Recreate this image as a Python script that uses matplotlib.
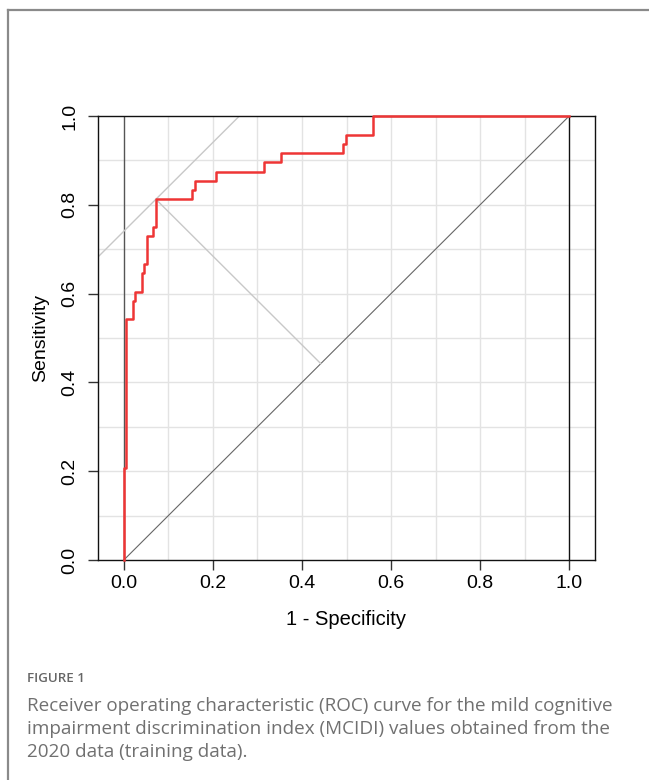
import matplotlib
matplotlib.use("Agg")
import matplotlib.pyplot as plt
from matplotlib.lines import Line2D

# ROC staircase vertices (1 - specificity, sensitivity)
fpr = [0.0, 0.0045, 0.021, 0.026, 0.041, 0.046, 0.052, 0.066, 0.072,
       0.152, 0.160, 0.208, 0.315, 0.352, 0.493, 0.499, 0.560, 1.0]
tpr = [0.0, 0.208, 0.542, 0.583, 0.604, 0.646, 0.667, 0.729, 0.750,
       0.8125, 0.833, 0.854, 0.875, 0.896, 0.917, 0.9375, 0.958, 1.0]
best_fpr, best_tpr = 0.072, 0.8125
ticks = [0.0, 0.2, 0.4, 0.6, 0.8, 1.0]
tick_labels = ["0.0", "0.2", "0.4", "0.6", "0.8", "1.0"]
caption_lines = [
    "Receiver operating characteristic (ROC) curve for the mild cognitive",
    "impairment discrimination index (MCIDI) values obtained from the",
    "2020 data (training data).",
]

W, H = 649, 780
fig = plt.figure(figsize=(W / 100, H / 100), dpi=100)

# outer frame lines (left and top)
fig.add_artist(Line2D([8 / W, 8 / W], [0, 1 - 10 / H], transform=fig.transFigure,
                      color="#8a8a8a", lw=1.6))
fig.add_artist(Line2D([8 / W, 1], [1 - 10 / H, 1 - 10 / H], transform=fig.transFigure,
                      color="#8a8a8a", lw=1.6))

ax = fig.add_axes([98 / W, 220 / H, 497 / W, 444 / H])
xmin, xmax = -0.058, 1.058
ax.set_xlim(xmin, xmax)
ax.set_ylim(0, 1)

grid = [i / 10 for i in range(1, 10)]
for g in grid:
    ax.axvline(g, color="#e3e3e3", lw=1.0, zorder=0)
    ax.axhline(g, color="#e3e3e3", lw=1.0, zorder=0)

ax.axvline(0, color="#555555", lw=1.0, zorder=1)
ax.axvline(1, color="#111111", lw=1.0, zorder=1)
ax.plot([0, 1], [0, 1], color="#666666", lw=0.8, zorder=2)

# tangent line through best point (slope 1)
c = best_tpr - best_fpr
ax.plot([xmin, 1 - c], [xmin + c, 1], color="#c8c8c8", lw=1.0, zorder=2)
# perpendicular to diagonal
foot = (best_fpr + best_tpr) / 2
ax.plot([best_fpr, foot], [best_tpr, foot], color="#c8c8c8", lw=1.0, zorder=2)

ax.step(fpr, tpr, where="pre", color="#ee3535", lw=1.8, zorder=3, clip_on=False)

for s in ax.spines.values():
    s.set_color("#111111")
    s.set_linewidth(1.0)

font = "Liberation Sans"
fs = 14
ax.set_xticks(ticks)
ax.set_xticklabels(tick_labels, fontsize=fs, family=font)
ax.set_yticks(ticks)
ax.set_yticklabels(tick_labels, fontsize=fs, family=font, rotation=90, va="center")
ax.tick_params(axis="both", direction="out", length=7, width=1.0, color="#333333")
ax.tick_params(axis="x", pad=4)
ax.tick_params(axis="y", pad=7)

ax.set_xlabel("1 - Specificity", fontsize=14.5, family=font, labelpad=13)
ax.set_ylabel("Sensitivity", fontsize=14, family=font, labelpad=9)

fig.text(27 / W, 1 - 682 / H, "FIGURE 1", fontsize=9.6, family="Open Sans",
         color="#666666", fontweight="semibold", va="baseline")
baselines = [711, 734, 757]
for line, b in zip(caption_lines, baselines):
    fig.text(27 / W, 1 - b / H, line, fontsize=13.6, family="Open Sans",
             color="#707070", va="baseline")

fig.savefig("out.png", dpi=100)
